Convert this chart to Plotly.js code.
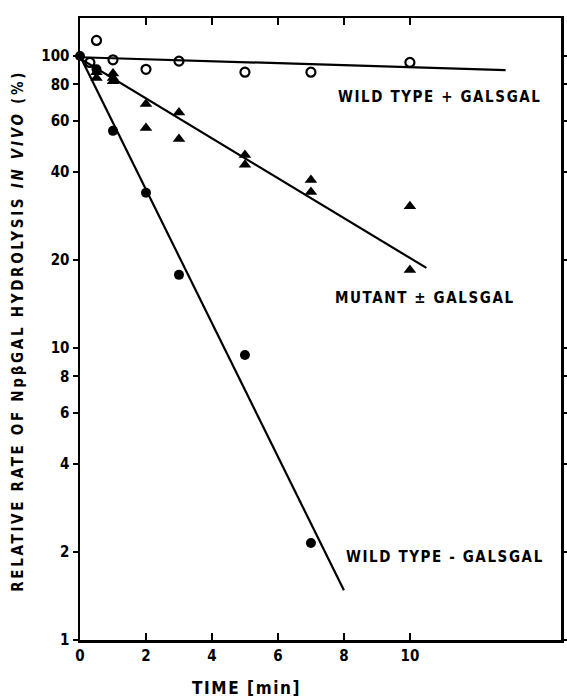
<!DOCTYPE html>
<html>
<head>
<meta charset="utf-8">
<script src="https://cdn.plot.ly/plotly-3.0.1.min.js"></script>
<style>html,body{margin:0;padding:0;background:#fff;}</style>
</head>
<body>
<div id="chart" style="width:567px;height:698px;"></div>
<script>
// Wild type + GALSGAL (open circles)
const wtPlusX = [0.5, 0.3, 1, 2, 3, 5, 7, 10];
const wtPlusY = [113, 95, 97, 90, 96, 88, 88, 95];
const wtPlusFitX = [0, 12.9];
const wtPlusFitY = [99, 89.5];

// Mutant +/- GALSGAL (filled triangles)
const mutX = [0.5, 0.5, 1, 1, 1, 2, 2, 3, 3, 5, 5, 7, 7, 10, 10];
const mutY = [88, 84, 87, 82, 84, 68.5, 56.7, 64, 52, 45.8, 42.4, 37.6, 34.2, 30.6, 18.5];
const mutFitX = [0, 10.5];
const mutFitY = [98, 18.8];

// Wild type - GALSGAL (filled circles)
const wtMinusX = [0, 0.5, 1, 2, 3, 5, 7];
const wtMinusY = [100, 90, 55.4, 34, 17.8, 9.46, 2.15];
const wtMinusFitX = [0, 8];
const wtMinusFitY = [100, 1.48];

const xTicks = [0, 2, 4, 6, 8, 10];
const yTicks = [1, 2, 4, 6, 8, 10, 20, 40, 60, 80, 100];

const FONT = "'Liberation Sans Narrow', 'DejaVu Sans Condensed', 'Arial Narrow', sans-serif";

const lineStyle = {color: '#000', width: 2.2};
const traces = [
  {x: wtPlusFitX, y: wtPlusFitY, mode: 'lines', line: lineStyle, hoverinfo: 'skip'},
  {x: mutFitX, y: mutFitY, mode: 'lines', line: lineStyle, hoverinfo: 'skip'},
  {x: wtMinusFitX, y: wtMinusFitY, mode: 'lines', line: lineStyle, hoverinfo: 'skip'},
  {x: wtPlusX, y: wtPlusY, mode: 'markers', cliponaxis: false,
   marker: {symbol: 'circle-open', size: 9, color: '#000', line: {width: 2.2, color: '#000'}}},
  {x: mutX, y: mutY, mode: 'markers', cliponaxis: false,
   marker: {symbol: 'triangle-up', size: 11, color: '#000'}},
  {x: wtMinusX, y: wtMinusY, mode: 'markers', cliponaxis: false,
   marker: {symbol: 'circle', size: 10, color: '#000'}}
];

const annFont = {family: FONT, size: 15, color: '#000', weight: 'bold'};
const sp = t => '<span style="letter-spacing:1.6px">' + t + '</span>';
const layout = {
  width: 567, height: 698,
  margin: {l: 80, r: 6, t: 18, b: 58},
  paper_bgcolor: '#fff', plot_bgcolor: '#fff',
  showlegend: false,
  font: {family: FONT, size: 14, color: '#000', weight: 'bold'},
  xaxis: {
    range: [0, 14.58], tickvals: xTicks, ticktext: xTicks.map(String),
    ticks: 'inside', ticklen: 7, tickwidth: 2, tickcolor: '#000',
    showline: true, linewidth: 2.5, linecolor: '#000', mirror: 'ticks',
    showgrid: false, zeroline: false,
    tickfont: {family: FONT, size: 15, color: '#000', weight: 'bold'}
  },
  yaxis: {
    type: 'log', range: [0, 2.13], tickvals: yTicks, ticktext: yTicks.map(String),
    ticks: 'outside', ticklen: 5, tickwidth: 2, tickcolor: '#000',
    showline: true, linewidth: 2.5, linecolor: '#000', mirror: 'ticks',
    showgrid: false, zeroline: false,
    tickfont: {family: FONT, size: 15, color: '#000', weight: 'bold'}
  },
  annotations: [
    {x: 10.9, y: 1.86, xref: 'x', yref: 'y', text: sp('WILD TYPE + GALSGAL'), showarrow: false,
     xanchor: 'center', yanchor: 'middle', font: annFont},
    {x: 10.46, y: 1.171, xref: 'x', yref: 'y', text: sp('MUTANT ± GALSGAL'), showarrow: false,
     xanchor: 'center', yanchor: 'middle', font: annFont},
    {x: 11.05, y: 0.284, xref: 'x', yref: 'y', text: sp('WILD TYPE - GALSGAL'), showarrow: false,
     xanchor: 'center', yanchor: 'middle', font: annFont},
    {x: 0.347, y: -0.077, xref: 'paper', yref: 'paper', text: sp('TIME [min]'), showarrow: false,
     xanchor: 'center', yanchor: 'middle', font: {family: FONT, size: 17, color: '#000', weight: 'bold'}},
    {x: -0.129, y: 0.497, xref: 'paper', yref: 'paper', textangle: -90,
     text: '<span style="letter-spacing:2.7px">RELATIVE RATE OF NpβGAL HYDROLYSIS <i>IN VIVO</i> (%)</span>',
     showarrow: false, xanchor: 'center', yanchor: 'middle',
     font: {family: FONT, size: 15, color: '#000', weight: 'bold'}}
  ]
};

Plotly.newPlot('chart', traces, layout, {displayModeBar: false, staticPlot: true});
</script>
</body>
</html>
